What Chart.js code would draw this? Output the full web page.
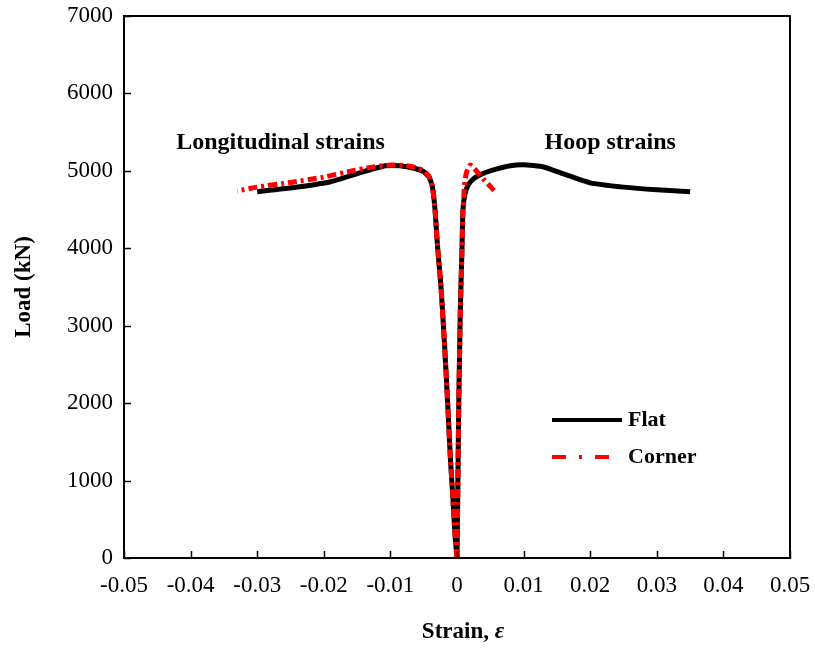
<!DOCTYPE html>
<html>
<head>
<meta charset="utf-8">
<script src="https://cdn.jsdelivr.net/npm/chart.js@4/dist/chart.umd.min.js"></script>
<style>
  html, body { margin: 0; padding: 0; background: #fff; }
  #wrap { width: 815px; height: 653px; }
</style>
</head>
<body>
<div id="wrap"><canvas id="chart"></canvas></div>
<script>
// Flat — longitudinal (negative) branch
const flatLongStrain = [0, -0.0003, -0.0006, -0.001, -0.0014, -0.0019, -0.0024, -0.0029, -0.0033, -0.0037, -0.0042, -0.005, -0.0063, -0.0086, -0.0108, -0.0146, -0.019, -0.0236, -0.027, -0.030];
const flatLongLoad   = [0, 300, 750, 1300, 2000, 2800, 3500, 4000, 4500, 4800, 4920, 4990, 5030, 5065, 5065, 4975, 4860, 4795, 4760, 4730];
// Flat — hoop (positive) branch
const flatHoopStrain = [0, 0.0001, 0.0002, 0.0003, 0.0005, 0.00075, 0.0009, 0.0012, 0.0017, 0.0025, 0.0035, 0.005, 0.008, 0.010, 0.013, 0.016, 0.020, 0.025, 0.030, 0.035];
const flatHoopLoad   = [0, 700, 1500, 2200, 3200, 4000, 4500, 4700, 4820, 4900, 4950, 5000, 5065, 5080, 5050, 4960, 4845, 4790, 4755, 4730];
// Corner — longitudinal branch
const cornerLongStrain = [0, -0.0003, -0.0006, -0.001, -0.0014, -0.0019, -0.0024, -0.0029, -0.0033, -0.0037, -0.0042, -0.005, -0.006, -0.008, -0.010, -0.013, -0.016, -0.020, -0.025, -0.030, -0.033];
const cornerLongLoad   = [0, 300, 750, 1300, 2000, 2800, 3500, 4000, 4500, 4800, 4930, 5000, 5040, 5070, 5075, 5045, 4995, 4920, 4850, 4790, 4740];
// Corner — hoop branch
const cornerHoopStrain = [0, 0.0001, 0.0002, 0.0003, 0.0005, 0.00075, 0.0009, 0.0012, 0.0015, 0.002, 0.003, 0.004, 0.005, 0.0057];
const cornerHoopLoad   = [0, 700, 1500, 2200, 3200, 4000, 4500, 4880, 5000, 5077, 4990, 4890, 4800, 4730];

const xTicks = [-0.05, -0.04, -0.03, -0.02, -0.01, 0, 0.01, 0.02, 0.03, 0.04, 0.05];
const yTicks = [0, 1000, 2000, 3000, 4000, 5000, 6000, 7000];

const pts = (xs, ys) => xs.map((x, i) => ({ x: x, y: ys[i] }));

const SERIF = '"Liberation Serif", "Times New Roman", serif';
const FS = 23;
const LEGEND_DASH = [14, 13, 3, 13];
const PLOT_DASH = [9, 4, 3, 4];

// Inner tick marks, top/right frame, axis title with italic epsilon,
// text annotations and the in-plot legend
const decor = {
  id: 'decor',
  afterDraw(chart) {
    const { ctx, chartArea: a, scales: { x, y } } = chart;
    ctx.save();
    ctx.strokeStyle = '#000';
    ctx.lineWidth = 2;
    ctx.strokeRect(a.left, a.top, a.right - a.left, a.bottom - a.top);

    ctx.lineWidth = 1.5;
    xTicks.forEach(v => {
      const px = Math.round(x.getPixelForValue(v)) + 0.5;
      ctx.beginPath(); ctx.moveTo(px, a.bottom); ctx.lineTo(px, a.bottom - 7); ctx.stroke();
    });
    yTicks.forEach(v => {
      const py = Math.round(y.getPixelForValue(v)) + 0.5;
      ctx.beginPath(); ctx.moveTo(a.left, py); ctx.lineTo(a.left + 7, py); ctx.stroke();
    });

    // x title: "Strain, ε"
    ctx.fillStyle = '#000';
    ctx.textBaseline = 'middle';
    const t1 = 'Strain, ', t2 = '\u03b5';
    ctx.font = 'bold ' + FS + 'px ' + SERIF;
    const w1 = ctx.measureText(t1).width;
    ctx.font = 'bold italic ' + FS + 'px ' + SERIF;
    const w2 = ctx.measureText(t2).width;
    const cx = 463;
    let sx = cx - (w1 + w2) / 2;
    ctx.font = 'bold ' + FS + 'px ' + SERIF;
    ctx.textAlign = 'left';
    ctx.fillText(t1, sx, 632);
    ctx.font = 'bold italic ' + FS + 'px ' + SERIF;
    ctx.fillText(t2, sx + w1, 632);

    // annotations
    ctx.font = 'bold 24px ' + SERIF;
    ctx.textAlign = 'center';
    ctx.fillText('Longitudinal strains', x.getPixelForValue(-0.0265), y.getPixelForValue(5360));
    ctx.fillText('Hoop strains', x.getPixelForValue(0.023), y.getPixelForValue(5360));

    // legend
    const lx = 552, ly1 = 420, ly2 = 457;
    ctx.lineWidth = 4;
    ctx.strokeStyle = '#000';
    ctx.beginPath(); ctx.moveTo(lx, ly1); ctx.lineTo(lx + 70, ly1); ctx.stroke();
    ctx.strokeStyle = '#ff0000';
    ctx.setLineDash(LEGEND_DASH);
    ctx.beginPath(); ctx.moveTo(lx, ly2); ctx.lineTo(lx + 60, ly2); ctx.stroke();
    ctx.setLineDash([]);
    ctx.font = 'bold 22px ' + SERIF;
    ctx.textAlign = 'left';
    ctx.fillText('Flat', lx + 76, ly1);
    ctx.fillText('Corner', lx + 76, ly2);
    ctx.restore();
  }
};

const flatStyle = { borderColor: '#000', backgroundColor: '#000', borderWidth: 5, pointRadius: 0, showLine: true, tension: 0.15, fill: false };
const cornerStyle = { borderColor: '#ff0000', backgroundColor: '#ff0000', borderWidth: 5, borderDash: PLOT_DASH, pointRadius: 0, showLine: true, tension: 0.15, fill: false };

new Chart(document.getElementById('chart'), {
  type: 'scatter',
  data: {
    // first datasets are painted on top, so the red Corner curves lie over the black ones
    datasets: [
      Object.assign({ label: 'Corner', data: pts(cornerLongStrain, cornerLongLoad) }, cornerStyle),
      Object.assign({ label: 'Corner hoop', data: pts(cornerHoopStrain, cornerHoopLoad) }, cornerStyle),
      Object.assign({ label: 'Flat', data: pts(flatLongStrain, flatLongLoad) }, flatStyle),
      Object.assign({ label: 'Flat hoop', data: pts(flatHoopStrain, flatHoopLoad) }, flatStyle),
    ]
  },
  options: {
    responsive: true,
    maintainAspectRatio: false,
    animation: false,
    layout: { padding: { left: 0, top: 16, right: 25, bottom: 0 } },
    plugins: { legend: { display: false }, tooltip: { enabled: false } },
    scales: {
      x: {
        type: 'linear',
        min: -0.05, max: 0.05,
        afterBuildTicks: (s) => { s.ticks = xTicks.map(v => ({ value: v })); },
        afterFit: (s) => { s.height = 95; s.paddingLeft = 0; s.paddingRight = 0; },
        grid: { display: false, drawTicks: false },
        border: { display: true, color: '#000', width: 2 },
        ticks: {
          color: '#000', padding: 14,
          font: { size: FS, family: SERIF },
          callback: (v) => String(Math.round(v * 100) / 100)
        },
        title: { display: false }
      },
      y: {
        type: 'linear',
        min: 0, max: 7000,
        afterBuildTicks: (s) => { s.ticks = yTicks.map(v => ({ value: v })); },
        afterFit: (s) => { s.width = 124; s.paddingTop = 0; s.paddingBottom = 0; },
        grid: { display: false, drawTicks: false },
        border: { display: true, color: '#000', width: 2 },
        ticks: {
          color: '#000', padding: 11,
          font: { size: FS, family: SERIF },
          callback: (v) => String(v)
        },
        title: {
          display: true, text: 'Load (kN)', color: '#000',
          font: { size: FS, weight: 'bold', family: SERIF }, padding: { top: 10, bottom: 4 }
        }
      }
    }
  },
  plugins: [decor]
});
</script>
</body>
</html>
